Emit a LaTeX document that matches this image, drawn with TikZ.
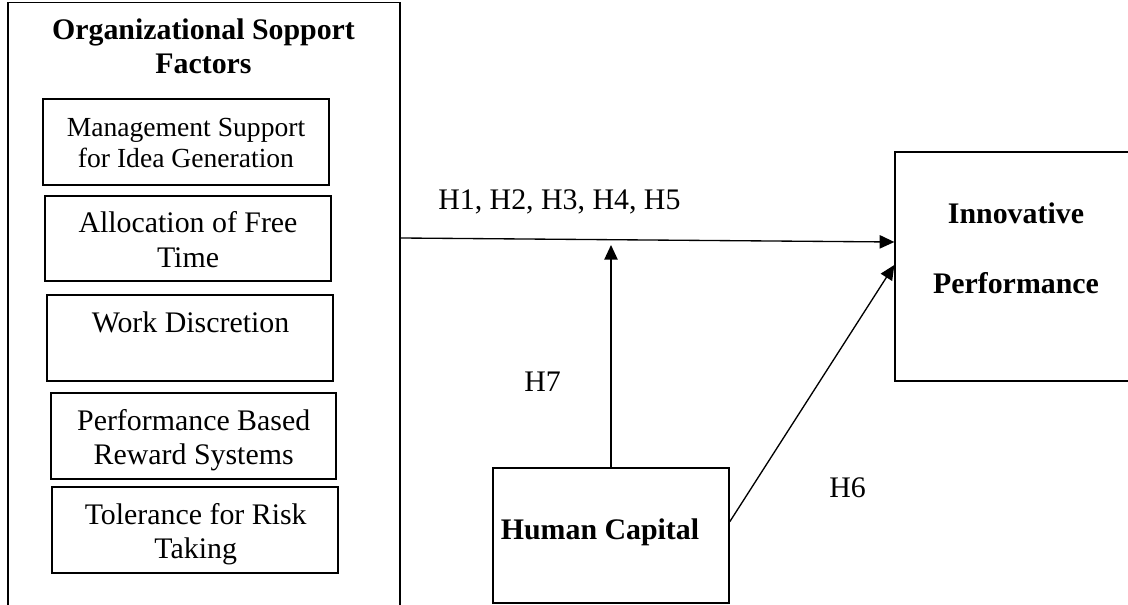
\documentclass[tikz,border=0pt]{standalone}
\usepackage{fontspec}
\setmainfont{Liberation Serif}
\usetikzlibrary{arrows.meta,calc}
\tikzset{
  box/.style={draw, line width=1pt, inner sep=0pt},
  txt/.style={inner sep=0pt, align=center, font=\fontsize{22.4}{25.8}\selectfont},
  smalltxt/.style={inner sep=0pt, align=center, font=\fontsize{20.7}{23.3}\selectfont},
  boldtxt/.style={inner sep=0pt, align=center, font=\fontsize{22.4}{25.8}\selectfont\bfseries},
  arr/.style={line width=1pt, -{Triangle[length=11pt,width=10pt]}}
}
\begin{document}
\begin{tikzpicture}[x=0.75pt,y=-0.75pt]
\clip (0,0) rectangle (1128,605);
\fill[white] (0,0) rectangle (1128,605);
% outer container
\node[box, minimum width=294pt, minimum height=462.75pt] (osf) at (204,311) {};
\node[boldtxt] (osft) at (203.5,46.3) {Organizational Sopport\\Factors};
% inner factor boxes
\node[box, minimum width=214.5pt, minimum height=64.5pt] (m1) at (186,142) {};
\node[smalltxt] (m1t) at (186,143.4) {Management Support\\for Idea Generation};
\node[box, minimum width=214.5pt, minimum height=63.75pt] (m2) at (188,238.5) {};
\node[txt] (m2t) at (188,239.8) {Allocation of Free\\Time};
\node[box, minimum width=214.5pt, minimum height=64.5pt] (m3) at (190,338) {};
\node[txt, anchor=base] (m3t) at (190.5,333) {Work Discretion};
\node[box, minimum width=213.75pt, minimum height=64.5pt] (m4) at (193.5,436) {};
\node[txt] (m4t) at (193.7,440.5) {Performance Based\\Reward Systems};
\node[box, minimum width=214.5pt, minimum height=64.5pt] (m5) at (195,530) {};
\node[txt] (m5t) at (195.7,534) {Tolerance for Risk\\Taking};
% human capital
\node[box, minimum width=177pt, minimum height=101.25pt] (hc) at (611,535.5) {};
\node[boldtxt, anchor=base] (hct) at (600,540) {Human Capital};
% innovative performance
\node[box, minimum width=183.75pt, minimum height=171.75pt] (ip) at (1017.5,266.5) {};
\node[boldtxt] (ipt) at (1016,247.9) {Innovative\\[26.7pt]Performance};
% connectors
\draw[arr] (osf.east |- 0,238) -- (ip.west |- 0,242);
\draw[arr] (hc.north) -- (hc.north |- 0,245);
\draw[arr] ($(hc.north east)!0.4!(hc.south east)$) -- (ip.west |- 0,265);
% labels
\node[txt, anchor=base west] (h15) at (438,210) {H1, H2, H3, H4, H5};
\node[txt, anchor=base west] (h7) at (524,392) {H7};
\node[txt, anchor=base west] (h6) at (829,498) {H6};
\end{tikzpicture}
\end{document}
